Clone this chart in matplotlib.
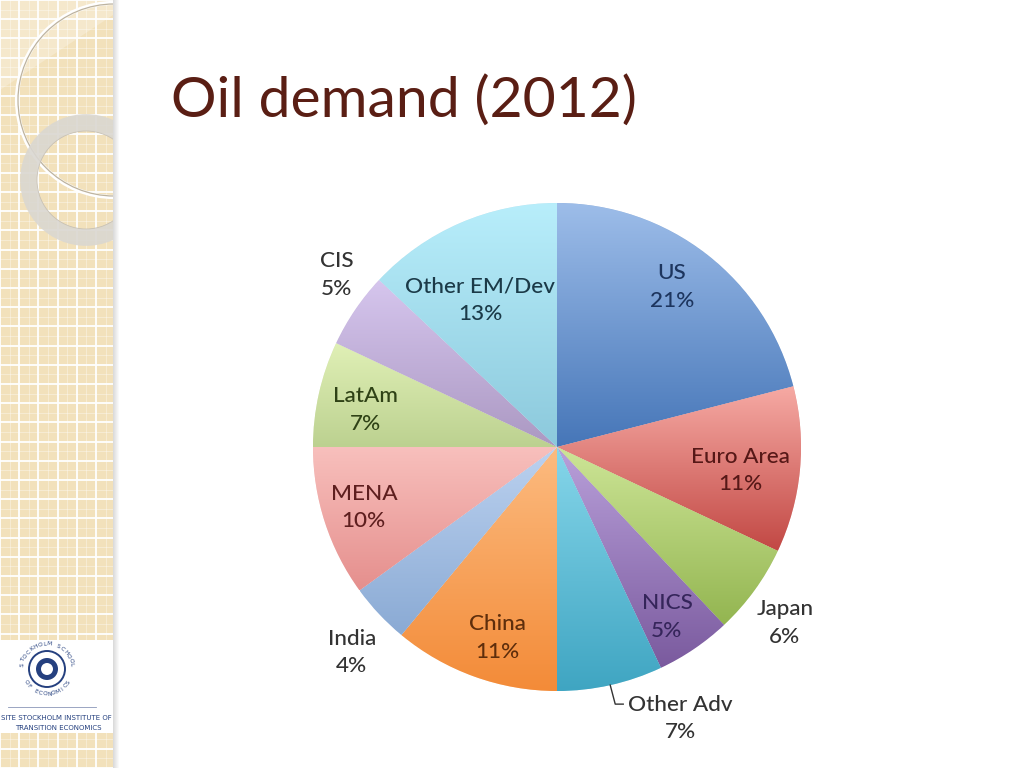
import numpy as np
import matplotlib.pyplot as plt
from matplotlib.patches import Rectangle, Circle, Polygon
from matplotlib.colors import to_rgb

# Oil demand shares, clockwise from 12 o'clock
regions = ["US", "Euro Area", "Japan", "NICS", "Other Adv", "China",
           "India", "MENA", "LatAm", "CIS", "Other EM/Dev"]
shares = [21, 11, 6, 5, 7, 11, 4, 10, 7, 5, 13]

# slice colours: light (top of slice) -> base (bottom of slice)
top_cols = ['#9dbde9', '#f6aaa4', '#cde597', '#b9a0da', '#86d6ea', '#fcbb80',
            '#bcd2f0', '#f8c0bd', '#e0f0b6', '#d6c6ee', '#b8eefb']
base_cols = ['#4676b8', '#c24844', '#93b550', '#7a5a9e', '#3fa5c2', '#f38b38',
             '#8aaad4', '#e58f8d', '#bcd190', '#ab98c2', '#8cc9dc']
text_cols = ['#1d355e', '#561817', '#333333', '#35255a', '#333333', '#5e2e0c',
             '#333333', '#5e1f1f', '#2f4216', '#333333', '#1b3a48']
# label placement: (distance in radii, angle nudge in degrees); None = leader line
label_pos = [(0.807, 2.1), (0.756, -1.8), (1.18, -1.7), (0.83, -1.3), None,
             (0.82, 2.4), (1.19, 1.8), (0.83, -0.5), (0.80, 1.7), (1.145, -3.8),
             (0.68, 4.2)]

W, H = 1024, 768
fig = plt.figure(figsize=(W / 100, H / 100), dpi=100)
fig.patch.set_facecolor('white')
ax = fig.add_axes([0, 0, 1, 1])

def Y(y):
    return H - y

# ---- left decorative strip ----
strip_w = 113
ax.add_patch(Rectangle((0, 0), strip_w, H, facecolor='#f2e1bb', edgecolor='none', zorder=0))
step = 19.2
for k in np.arange(0, H + step, step):
    ax.plot([0, strip_w], [Y(k), Y(k)], color='white', lw=1.3, zorder=1)
    ax.plot([0, strip_w], [Y(k + step / 2), Y(k + step / 2)], color='white', lw=0.5, alpha=0.5, zorder=1)
for k in np.arange(0, strip_w, step):
    ax.plot([k, k], [0, H], color='white', lw=1.3, zorder=1)
    ax.plot([k + step / 2, k + step / 2], [0, H], color='white', lw=0.5, alpha=0.5, zorder=1)
# shadow at the strip edge
for i, a in enumerate(np.linspace(0.35, 0.0, 7)):
    ax.add_patch(Rectangle((strip_w + i, 0), 1, H, facecolor='#9a9a9a', alpha=a, edgecolor='none', zorder=1))

clip = Rectangle((0, 0), strip_w, H, transform=ax.transData, facecolor='none', edgecolor='none')
ax.add_patch(clip)
sheen = Polygon([(0, Y(0)), (strip_w, Y(0)), (strip_w, Y(15)), (0, Y(90))],
                facecolor='white', alpha=0.25, edgecolor='none', zorder=1.5)
c1 = Circle((114, Y(100)), 97, facecolor='none', edgecolor='white', lw=3, zorder=2)
c1b = Circle((114, Y(100)), 96, facecolor='none', edgecolor='#bdb39f', lw=0.9, zorder=2)
c2 = Circle((86, Y(180)), 57.5, facecolor='none', edgecolor='#dad7d1', lw=12, alpha=0.9, zorder=2)
c2b = Circle((86, Y(180)), 49, facecolor='none', edgecolor='#c7c1b6', lw=0.6, zorder=2)
for c in (sheen, c1, c1b, c2, c2b):
    ax.add_patch(c)
    c.set_clip_path(clip)

# ---- logo box ----
navy = '#25407f'
ax.add_patch(Rectangle((0, Y(733)), strip_w, 93, facecolor='white', edgecolor='none', zorder=3))
ax.add_patch(Circle((47, Y(669)), 18, facecolor='none', edgecolor=navy, lw=1.4, zorder=4))
ax.add_patch(Circle((47, Y(669)), 11, facecolor=navy, edgecolor='none', zorder=4))
ax.add_patch(Circle((47, Y(669)), 6, facecolor='white', edgecolor='none', zorder=4))

def arc_text(s, r, a0, a1, top=True):
    angs = np.linspace(a0, a1, len(s))
    for ch, a in zip(s, angs):
        x = 47 + r * np.cos(np.radians(a))
        y = Y(669) + r * np.sin(np.radians(a))
        rot = a - 90 if top else a + 90
        ax.text(x, y, ch, fontsize=4.2, color=navy, ha='center', va='center',
                rotation=rot, zorder=5, family='DejaVu Sans')

arc_text("STOCKHOLM SCHOOL", 25, 170, 10, top=True)
arc_text("OF ECONOMICS", 25, 212, 328, top=False)
ax.plot([8, 96], [Y(707), Y(707)], color='#8a96b8', lw=0.6, zorder=4)
ax.text(56, Y(718), "SITE STOCKHOLM INSTITUTE OF", fontsize=5.0, color=navy,
        ha='center', va='center', zorder=5, family='DejaVu Sans')
ax.text(58, Y(728), "TRANSITION ECONOMICS", fontsize=5.0, color=navy,
        ha='center', va='center', zorder=5, family='DejaVu Sans')

# ---- title ----
ax.text(171, Y(117), "Oil demand (2012)", fontsize=41, color='#5a1e14',
        family='Lato', ha='left', va='baseline', zorder=5)

# ---- pie ----
cx, cy, R = 557, Y(447), 244
wedges, _ = ax.pie(shares, startangle=90, counterclock=False, center=(cx, cy),
                   radius=R, colors=base_cols, frame=True,
                   wedgeprops=dict(edgecolor='white', linewidth=0.4))
grad = np.linspace(0, 1, 256)[:, None]
for w, tc, bc in zip(wedges, top_cols, base_cols):
    ext = w.get_path().get_extents()
    t = np.array(to_rgb(tc))
    b = np.array(to_rgb(bc))
    img = t[None, None, :] * (1 - grad[..., None]) + b[None, None, :] * grad[..., None]
    im = ax.imshow(img, extent=(ext.x0, ext.x1, ext.y0, ext.y1), origin='upper',
                   aspect='auto', zorder=w.get_zorder() + 0.1, interpolation='bilinear')
    im.set_clip_path(w)

fs = 16.2
for w, name, val, col, lp in zip(wedges, regions, shares, text_cols, label_pos):
    mid = np.radians((w.theta1 + w.theta2) / 2)
    lab = "%s\n%d%%" % (name, val)
    if lp is None:
        # leader line label
        sx, sy = cx + R * np.cos(mid), cy + R * np.sin(mid)
        ax.plot([sx, sx + 5, sx + 13], [sy, sy - 19, sy - 19], color='#333333', lw=1.0, zorder=6)
        ax.text(sx + 18, sy - 33, lab, fontsize=fs, color=col, family='Lato',
                fontweight='medium', ha='left', va='center', multialignment='center',
                linespacing=1.45, zorder=6)
        continue
    rl, nudge = lp
    ang = mid + np.radians(nudge)
    x, y = cx + rl * R * np.cos(ang), cy + rl * R * np.sin(ang)
    ax.text(x, y, lab, fontsize=fs, color=col, family='Lato', fontweight='medium',
            ha='center', va='center', linespacing=1.45, zorder=6)

ax.set_xlim(0, W)
ax.set_ylim(0, H)
ax.set_aspect('auto')
ax.axis('off')

fig.savefig('out.png', dpi=100)
